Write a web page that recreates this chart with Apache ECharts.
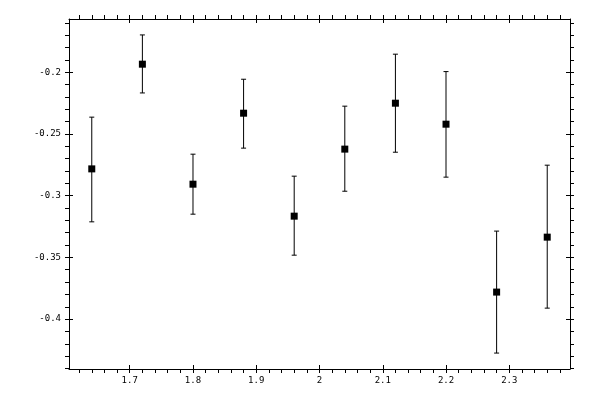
<!DOCTYPE html>
<html>
<head>
<meta charset="utf-8">
<script src="https://cdn.jsdelivr.net/npm/echarts@6/dist/echarts.min.js"></script>
<style>html,body{margin:0;padding:0;background:#fff}#c{width:600px;height:400px}</style>
</head>
<body>
<div id="c"></div>
<script>
// Data
var xValues = [1.64, 1.72, 1.80, 1.88, 1.96, 2.04, 2.12, 2.20, 2.28, 2.36];
var yValues = [-0.2783, -0.1935, -0.2907, -0.2332, -0.3166, -0.2623, -0.2251, -0.2421, -0.3781, -0.3336];
var yUpper  = [-0.2364, -0.1698, -0.2664, -0.2057, -0.2842, -0.2275, -0.1854, -0.1995, -0.3287, -0.2753];
var yLower  = [-0.3212, -0.2168, -0.3150, -0.2615, -0.3482, -0.2964, -0.2648, -0.2850, -0.4275, -0.3911];

// Tick labels
var xMajorTicks = [1.7, 1.8, 1.9, 2, 2.1, 2.2, 2.3];
var yMajorTicks = [-0.4, -0.35, -0.3, -0.25, -0.2];
var xMinorTicks = [1.62,1.64,1.66,1.68,1.7,1.72,1.74,1.76,1.78,1.8,1.82,1.84,1.86,1.88,1.9,1.92,1.94,1.96,1.98,2,2.02,2.04,2.06,2.08,2.1,2.12,2.14,2.16,2.18,2.2,2.22,2.24,2.26,2.28,2.3,2.32,2.34,2.36,2.38];
var yMinorTicks = [-0.44,-0.43,-0.42,-0.41,-0.4,-0.39,-0.38,-0.37,-0.36,-0.35,-0.34,-0.33,-0.32,-0.31,-0.3,-0.29,-0.28,-0.27,-0.26,-0.25,-0.24,-0.23,-0.22,-0.21,-0.2,-0.19,-0.18,-0.17,-0.16];

var X_MIN = 1.604, X_MAX = 2.396, Y_MIN = -0.4404, Y_MAX = -0.1569;

var pts = xValues.map(function (x, i) { return [x, yValues[i]]; });
var errs = xValues.map(function (x, i) { return [x, yLower[i], yUpper[i]]; });

var labelStyle = { fontFamily: 'DejaVu Sans Mono', fontSize: 9, color: '#000' };
var lineStyle = { color: '#000', width: 1 };

function xAx(pos, inside, ticks, showLine, showLabel) {
  return {
    type: 'value', position: pos, min: X_MIN, max: X_MAX,
    axisLine: { show: showLine, onZero: false, lineStyle: lineStyle },
    axisTick: { show: true, inside: inside, length: 4, lineStyle: lineStyle, customValues: ticks },
    axisLabel: showLabel ? Object.assign({ show: true, margin: 7, customValues: xMajorTicks }, labelStyle) : { show: false },
    splitLine: { show: false }
  };
}
function yAx(pos, inside, ticks, showLine, showLabel) {
  return {
    type: 'value', position: pos, min: Y_MIN, max: Y_MAX,
    axisLine: { show: showLine, onZero: false, lineStyle: lineStyle },
    axisTick: { show: true, inside: inside, length: 4, lineStyle: lineStyle, customValues: ticks },
    axisLabel: showLabel ? Object.assign({ show: true, margin: 8, customValues: yMajorTicks }, labelStyle) : { show: false },
    splitLine: { show: false }
  };
}

var chart = echarts.init(document.getElementById('c'), null, { renderer: 'canvas' });
chart.setOption({
  animation: false,
  backgroundColor: '#fff',
  grid: { left: 69, top: 19, width: 501, height: 350, containLabel: false },
  xAxis: [
    xAx('bottom', false, xMinorTicks, true, true),
    xAx('bottom', true, xMajorTicks, false, false),
    xAx('top', false, xMinorTicks, true, false),
    xAx('top', true, xMajorTicks, false, false)
  ],
  yAxis: [
    yAx('left', false, yMinorTicks, true, true),
    yAx('left', true, yMajorTicks, false, false),
    yAx('right', false, yMinorTicks, true, false),
    yAx('right', true, yMajorTicks, false, false)
  ],
  series: [
    {
      type: 'custom',
      xAxisIndex: 0, yAxisIndex: 0,
      data: errs,
      renderItem: function (params, api) {
        var x = api.value(0);
        var lo = api.coord([x, api.value(1)]);
        var hi = api.coord([x, api.value(2)]);
        var hw = 2.5;
        var st = { stroke: '#000', lineWidth: 1 };
        return {
          type: 'group',
          children: [
            { type: 'line', shape: { x1: lo[0], y1: lo[1], x2: hi[0], y2: hi[1] }, style: st },
            { type: 'line', shape: { x1: lo[0] - hw, y1: lo[1], x2: lo[0] + hw, y2: lo[1] }, style: st },
            { type: 'line', shape: { x1: hi[0] - hw, y1: hi[1], x2: hi[0] + hw, y2: hi[1] }, style: st }
          ]
        };
      },
      z: 1
    },
    {
      type: 'scatter',
      xAxisIndex: 0, yAxisIndex: 0,
      data: pts,
      symbol: 'rect',
      symbolSize: 7,
      itemStyle: { color: '#000', opacity: 1 },
      z: 2
    }
  ]
});
</script>
</body>
</html>
